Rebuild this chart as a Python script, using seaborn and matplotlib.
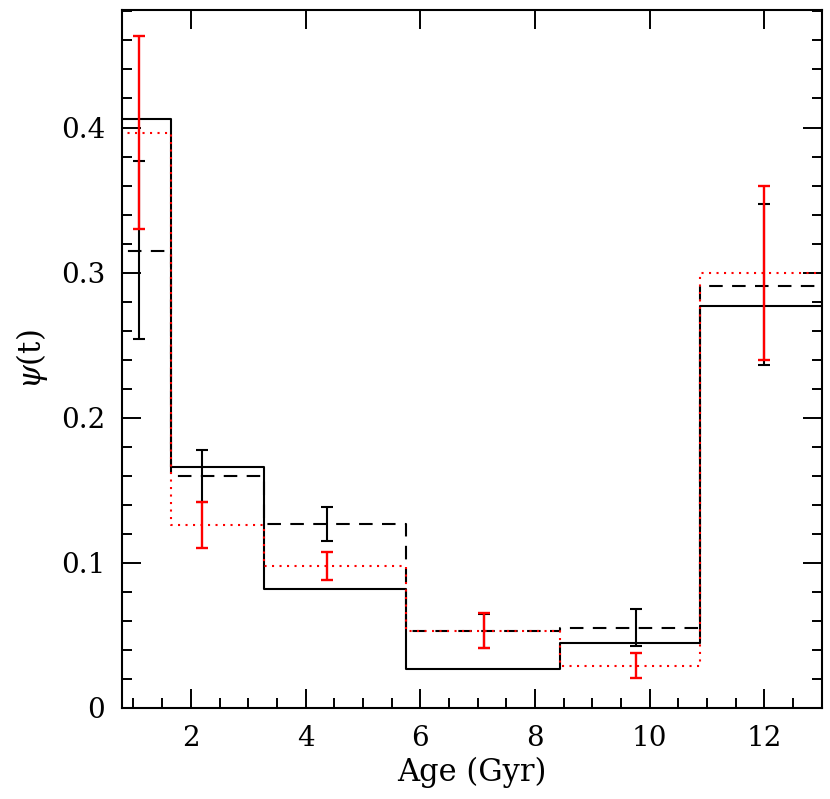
import numpy as np
import pandas as pd
import matplotlib
matplotlib.use('Agg')
import matplotlib.pyplot as plt
from matplotlib.ticker import MultipleLocator
import seaborn as sns

sns.set_theme(style='ticks')
plt.rcParams['font.family'] = ['DejaVu Serif']
plt.rcParams['mathtext.fontset'] = 'dejavuserif'

# Age bins (Gyr) and the three star formation histories
bin_edges = [0.5, 1.65, 3.28, 5.75, 8.44, 10.88, 13.3]
psi_solid = [0.406, 0.166, 0.082, 0.027, 0.045, 0.277]
psi_dashed = [0.315, 0.160, 0.127, 0.053, 0.055, 0.291]
psi_dotted = [0.396, 0.126, 0.098, 0.053, 0.029, 0.300]

# error bars
err_age = [1.09, 2.20, 4.38, 7.12, 9.76, 12.0]
black_val = [0.3155, 0.160, 0.127, 0.053, 0.0557, 0.2918]
black_err = [0.0615, 0.018, 0.0118, 0.012, 0.0127, 0.0558]
red_val = [0.3965, 0.126, 0.098, 0.0534, 0.0295, 0.300]
red_err = [0.0665, 0.0158, 0.0097, 0.0123, 0.0086, 0.060]

# Long form table for the step lines
rows = []
for name, vals in [('solid', psi_solid), ('dashed', psi_dashed), ('dotted', psi_dotted)]:
    for age, psi in zip(bin_edges, vals + [vals[-1]]):
        rows.append({'model': name, 'age': age, 'psi': psi})
df = pd.DataFrame(rows)

fig = plt.figure(figsize=(8.3, 7.99), dpi=100)
ax = fig.add_axes([0.147, 0.114, 0.843, 0.8735])

sns.lineplot(data=df, x='age', y='psi', hue='model', style='model',
             palette={'solid': 'black', 'dashed': 'black', 'dotted': 'red'},
             dashes={'solid': '', 'dashed': (6.5, 4.5), 'dotted': (1, 2.6)},
             drawstyle='steps-post', estimator=None, sort=False,
             linewidth=1.5, legend=False, ax=ax)

ax.errorbar(err_age, black_val, yerr=black_err, fmt='none', ecolor='black',
            elinewidth=1.5, capsize=4.3, capthick=1.5, zorder=3)
ax.errorbar(err_age, red_val, yerr=red_err, fmt='none', ecolor='red',
            elinewidth=1.7, capsize=4.3, capthick=1.7, zorder=4)

ax.set_xlim(0.8, 13.0)
ax.set_ylim(0, 0.481)
ax.xaxis.set_major_locator(MultipleLocator(2))
ax.xaxis.set_minor_locator(MultipleLocator(0.5))
ax.yaxis.set_major_locator(MultipleLocator(0.1))
ax.yaxis.set_minor_locator(MultipleLocator(0.02))
ax.set_yticks([0, 0.1, 0.2, 0.3, 0.4])
ax.set_yticklabels(['0', '0.1', '0.2', '0.3', '0.4'])

ax.tick_params(which='both', direction='in', top=True, right=True,
               width=1.4, labelsize=20, colors='black')
ax.tick_params(which='major', length=14, pad=12)
ax.tick_params(which='minor', length=7)
ax.tick_params(axis='x', which='minor', top=False)
for sp in ax.spines.values():
    sp.set_linewidth(1.5)
    sp.set_color('black')

ax.set_xlabel('Age (Gyr)', fontsize=22, labelpad=4, color='black')
ax.set_ylabel(r'$\psi$(t)', fontsize=22, labelpad=8, color='black')

fig.savefig('out.png', dpi=100)
